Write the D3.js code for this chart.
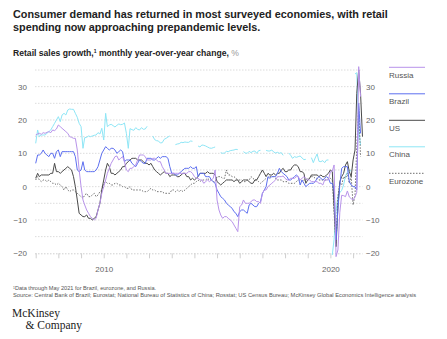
<!DOCTYPE html>
<html>
<head>
<meta charset="utf-8">
<script src="https://d3js.org/d3.v7.min.js"></script>
<style>
  body { margin: 0; background: #fff; }
  text { font-family: "Liberation Sans", Arial, sans-serif; }
  .grid line { stroke: #dcdcdc; stroke-dasharray: 1.5,1.5; }
  .yax text { fill: #666; font-size: 8px; }
  .xax text { fill: #666; font-size: 8px; }
  .xax line, .xax path { stroke: #cfcfcf; }
  .series { fill: none; stroke-width: 1; }
</style>
</head>
<body>
<script>
// monthly values, Jan 2007 onward (null = no reading)
var startDate = new Date(2007, 0, 1);

var russia = [
  15.5, 15.8, 16, 15.7, 16.2, 16, 16.3, 16.5, 16.2, 17, 16.8, 17.3,
  18.5, 18, 17.5, 17, 16.5, 16, 15, 14.8, 14.5, 14.5, 11, 5,
  0, -4, -5.5, -7, -8, -9, -9.5, -10, -9.5, -7, -5, -2,
  0, 2, 4, 5.5, 7, 8, 9, 9.2, 8, 8.5, 9, 7.5,
  5, 4.5, 5.5, 5.5, 6, 6.5, 8, 9.5, 9.5, 9.5, 9, 8,
  8, 8, 8.5, 8.5, 8, 7.5, 7.5, 6, 5, 4, 4, 4,
  4, 4, 4, 4, 4, 4, 4, 4, 4, 4.5, 4.5, 4,
  3, 2.5, 2.5, 2, 2, 1, 1.5, 2, 1.5, 2, 2.5, 5,
  -4, -7, -8.5, -9.5, -9, -9, -9.5, -10, -10.5, -11.5, -12.5, -13.5,
  -6, -5.5, -4, -5, -5, -5, -4.5, -4, -4, -4.5, -4.5, -5,
  -2, -1, -1, 0, 0.5, 1, 1.5, 2, 3, 3, 3, 3.2,
  2.5, 2, 2, 2.5, 2.5, 2.5, 3, 3, 2, 2.5, 3, 2.5,
  2, 2, 1.5, 1.5, 1.5, 1.5, 1, 1, 0.5, 2, 2, 2,
  4.5, 4.7, 6.5, -21, -19, -7.7, -2.6, -2.7, -3, -1.3, -3.1, -3.6,
  -4, -3.1, -1.7, 36, 27
];

var brazil = [
  7, 9.5, 9.5, 10, 11, 10, 9.5, 9, 10, 10, 8.5, 10.5,
  11, 9, 10.5, 10.5, 10.5, 10.5, 10.5, 10.5, 10.5, 9, 5, 4.5,
  5, 7.5, 5, 4.5, 4.5, 4.5, 4.5, 4.5, 5, 6, 8, 10,
  11, 12, 11.5, 11, 11.5, 11.5, 11, 10, 10.5, 11, 10.5, 7.5,
  8, 8, 8, 7, 6.5, 6, 7, 8, 7.5, 7, 7, 8.5,
  8.5, 8.5, 8, 8, 8.5, 9, 8.5, 9, 9, 9, 8.5, 6,
  4, 4, 3.5, 3.5, 4, 4.5, 5, 5.5, 5.5, 5.5, 6, 5.5,
  5.5, 6, 3, 4, 4, 4, 3, 3, 3, 2, 1.5, 1,
  -1, -2, -3, -3.5, -4, -5, -5.5, -6, -6.5, -7.5, -8, -9,
  -7.5, -7, -7, -7.5, -8, -5.5, -5, -5.5, -6, -6, -5, -4.5,
  -2, -1, 0, 3, 2.5, 3, 3, 3, 4, 5.5, 4.5, 4,
  3.5, 3, 2, 2, 2.5, 3, 3.5, 3, 0.5, 2, 1, 0,
  0.5, 1, 1, 1, 1.5, 2.5, 3, 2.5, 2, 2.5, 3, 2.5,
  1, 1, -1, -16, -7, 0.5, 5.5, 6, 6, 6, 1.5, 0.5,
  0, 0, -1, 25, 16
];

var us = [
  2.5, 4, 3, 3.5, 3.5, 3.5, 3.5, 3.5, 4, 4, 7, 4.5,
  4.5, 4, 4.5, 5, 5.5, 6, 5.5, 5, 3, 0, -4, -8,
  -8.5, -9, -9, -8.5, -9.5, -9.5, -10, -9.5, -9, -7, -5, -1,
  2, 5, 7, 6, 4, 4, 3.5, 4, 4.5, 5, 6, 6,
  7, 7.5, 8, 8.5, 8.5, 8.5, 8, 8, 8, 7.5, 7, 7,
  6.5, 7, 6, 5, 4.5, 4, 3.5, 4, 4.5, 4, 4, 3,
  3.5, 3.5, 3.5, 3, 3, 3.5, 4, 4, 3, 3, 2, 2.5,
  2, 2.5, 3, 4, 4, 4, 4, 4.5, 4, 4, 4, 3.5,
  1.5, 1, 0.5, 1, 1.5, 2, 2, 2, 2, 1.5, 2, 2,
  1, 1.5, 2, 2, 2, 1.5, 1, 1, 2, 2, 3, 4,
  5, 4, 3, 4, 3.5, 3.5, 4, 3.5, 4, 4, 5, 5.5,
  4.5, 4.5, 5, 5, 6, 6.5, 6.5, 6, 4.5, 4.5, 4, 1,
  2, 2.5, 3.5, 3.5, 3.5, 3.5, 3, 3.5, 3, 3, 3.5, 4,
  5, 4.5, -6, -18, -6, 1.5, 3, 4, 6.5, 7.5, 4.5, 3,
  8, 11, 28, 35, 28, 15
];

var china = [
  13, 17, 15, 15.5, 15.5, 15.5, 16, 16.5, 17, 18, 19, 20,
  21, 19.5, 21.5, 22, 21.5, 23, 23.3, 23.2, 23.2, 22, 20.8, 19,
  18, 11.5, 14.7, 14.8, 15.2, 15, 15.2, 15.4, 15.5, 16.2, 15.8, 17.5,
  14, 22, 18, 18.5, 18.7, 18.3, 17.9, 18.4, 18.8, 18.6, 18.7, 19.1,
  16, 11.5, 17.4, 17.1, 16.9, 17.7, 17.2, 17, 17.7, 17.2, 17.3, 18.1,
  null, null, 15.2, 14.1, 13.8, 13.7, 13.1, 13.2, 14.2, 14.5, 14.9, 15.2,
  null, null, 12.6, 12.8, 12.9, 13.3, 13.2, 13.4, 13.3, 13.3, 13.7, 13.6,
  null, null, 12.2, 11.9, 12.5, 12.4, 12.2, 11.9, 11.6, 11.5, 11.7, 11.9,
  null, null, 10.2, 10, 10.1, 10.6, 10.5, 10.8, 10.9, 11, 11.2, 11.1,
  null, null, 10.5, 10.1, 10, 10.6, 10.2, 10.6, 10.7, 10, 10.8, 10.9,
  null, null, 10.9, 10.7, 10.7, 11, 10.4, 10.1, 10.3, 10, 10.2, 9.4,
  null, null, 10.1, 9.4, 8.5, 9, 8.8, 9, 9.2, 8.6, 8.1, 8.2,
  null, null, 8.7, 7.2, 8.6, 9.8, 7.6, 7.5, 7.8, 7.2, 8, 8,
  null, -20.5, -15.8, -7.5, -2.8, -1.8, -1.1, 0.5, 3.3, 4.3, 5, 4.6,
  null, 33.8, 34.2, 17.7, 12.4
];

var eurozone = [
  2, 3, 2, 1.5, 2, 2, 1.5, 2, 1.5, 1, 1, 0.5,
  1, 0.5, 0, -1, 0, -1, -1.5, -1, -1, -1.5, -2, -2.5,
  -3, -3.5, -2.5, -2, -3, -3, -2.5, -2, -3, -2.5, -1.5, -1,
  1, 1.5, 1, 1, 0.5, 0.5, 1, 1, 0.5, 0.5, 0, 0,
  -0.5, -0.5, 0, -1, -1, -1, -1, -1, -1, -1.5, -1.5, -1.5,
  -1, -0.5, -1, -1, -1.5, -1.5, -1.5, -1.5, -2, -2, -2, -2,
  -1, -1, -1.5, -1, -1.5, -1, -1.5, -1, -0.5, 0, 0.5, 1,
  1, 1.5, 2, 1.5, 2, 2, 2, 2.5, 2, 2, 1.5, 1.5,
  3, 3, 3, 2.5, 2.5, 5, 3.5, 3.5, 3, 3, 2.5, 2,
  2, 2, 1.5, 1.5, 2, 2, 3, 2.5, 2, 2, 1.5, 1,
  1.5, 2, 2.5, 2.5, 3, 3, 3, 2.5, 2, 2, 2, 1.5,
  1.5, 1.5, 1, 1, 1, 1, 1.5, 2, 2, 1.5, 2, 2,
  2.5, 2.5, 3, 3, 2.5, 2.5, 2, 2, 2, 2, 2, 2.5,
  2.5, 2, -8, -17, -3, 1, 0.5, 3, 2.5, 4, 1, 3,
  -5.5, -2.5, 12, 24, 9
];

var seriesNames = ["China", "Eurozone", "US", "Brazil", "Russia"];
var legendNames = ["Russia", "Brazil", "US", "China", "Eurozone"];
var yTicks = [-20, -10, 0, 10, 20, 30];
var gridTicks = [-15, -10, -5, 0, 5, 10, 15, 20, 25, 30, 35];
var xLabels = [2010, 2020];

var colors = {Russia: "#b893ea", Brazil: "#5d6ff0", US: "#4a4a4a", China: "#8ee6f6", Eurozone: "#6e6e6e"};
var dataMap = {Russia: russia, Brazil: brazil, US: us, China: china, Eurozone: eurozone};

var W = 447, H = 339;
var svg = d3.select("body").append("svg").attr("width", W).attr("height", H);

// shrink a text's font until it spans the given width
function fitWidth(sel, width) {
  var fs = parseFloat(sel.style("font-size"));
  var w = sel.node().getComputedTextLength();
  sel.style("font-size", (fs * width / w) + "px");
}

// title
var t1 = svg.append("text").attr("x", 13).attr("y", 18)
  .style("font-size", "12px").style("font-weight", "bold").style("fill", "#222")
  .text("Consumer demand has returned in most surveyed economies, with retail");
fitWidth(t1, 375);
var t2 = svg.append("text").attr("x", 13).attr("y", 30.5)
  .style("font-size", t1.style("font-size")).style("font-weight", "bold").style("fill", "#222")
  .text("spending now approaching prepandemic levels.");

var sub = svg.append("text").attr("x", 13).attr("y", 56)
  .style("font-size", "8.6px").style("font-weight", "bold").style("fill", "#222");
sub.append("tspan").text("Retail sales growth,");
sub.append("tspan").attr("dy", -3).style("font-size", "5px").text("1");
sub.append("tspan").attr("dy", 3).text(" monthly year-over-year change, ");
sub.append("tspan").style("fill", "#999").style("font-weight", "normal").text("%");

// scales
var x = d3.scaleTime()
  .domain([new Date(2007, 0, 1), new Date(2021, 0, 1)])
  .range([35.7, 353.1]);
var y = d3.scaleLinear().domain([-20, 35]).range([253.3, 70]);

// grid
svg.append("g").attr("class", "grid")
  .selectAll("line").data(gridTicks).enter().append("line")
  .attr("x1", 35).attr("x2", 362.5)
  .attr("y1", function(d) { return y(d); })
  .attr("y2", function(d) { return y(d); });

// x axis at -20
var years = d3.range(2007, 2022).map(function(yr) { return new Date(yr, 0, 1); });
var xAxis = svg.append("g").attr("class", "xax")
  .attr("transform", "translate(0," + y(-20) + ")")
  .call(d3.axisBottom(x).tickValues(years).tickSize(5).tickFormat(function(d) {
    return xLabels.indexOf(d.getFullYear()) >= 0 ? d.getFullYear() : "";
  }));
xAxis.select(".domain").attr("d", "M35,0.5H362.5").style("stroke-dasharray", "1.5,1.5");
xAxis.selectAll(".tick text").attr("dy", "1.35em");

// y axes
var fmt = function(d) { return d < 0 ? "\u2212" + Math.abs(d) : d; };
var yl = svg.append("g").attr("class", "yax").attr("transform", "translate(27,0)")
  .call(d3.axisLeft(y).tickValues(yTicks).tickSize(0).tickPadding(0).tickFormat(fmt));
yl.select(".domain").remove();
var yr = svg.append("g").attr("class", "yax").attr("transform", "translate(366,0)")
  .call(d3.axisRight(y).tickValues(yTicks).tickSize(0).tickPadding(0).tickFormat(fmt));
yr.select(".domain").remove();

// lines
var line = d3.line()
  .defined(function(d) { return d.v !== null; })
  .x(function(d) { return x(d.date); })
  .y(function(d) { return y(d.v); });

seriesNames.forEach(function(name) {
  var pts = dataMap[name].map(function(v, i) {
    return {date: d3.timeMonth.offset(startDate, i), v: v};
  });
  var p = svg.append("path").datum(pts)
    .attr("class", "series")
    .attr("d", line)
    .style("stroke", colors[name]);
  if (name === "Eurozone") p.style("stroke-dasharray", "1.5,1.5");
});

// legend
var lg = svg.append("g").selectAll("g").data(legendNames).enter().append("g")
  .attr("transform", function(d, i) { return "translate(389," + (67.3 + i * 26.5) + ")"; });
lg.append("line").attr("x1", 0).attr("x2", 36).attr("y1", 0).attr("y2", 0)
  .style("stroke", function(d) { return colors[d]; })
  .style("stroke-width", 1)
  .style("stroke-dasharray", function(d) { return d === "Eurozone" ? "1.5,1.5" : null; });
lg.append("text").attr("x", 0).attr("y", 10.5)
  .style("font-size", "8px").style("fill", "#555").text(function(d) { return d; });

// footnotes
var foot = svg.append("text").attr("x", 13).attr("y", 290).style("font-size", "5.6px").style("fill", "#555");
foot.append("tspan").attr("dy", -1.5).style("font-size", "3.5px").text("1");
foot.append("tspan").attr("dy", 1.5).text("Data through May 2021 for Brazil, eurozone, and Russia.");
var src = svg.append("text").attr("x", 13).attr("y", 297).style("font-size", "5.3px").style("fill", "#555")
  .text("Source: Central Bank of Brazil; Eurostat; National Bureau of Statistics of China; Rosstat; US Census Bureau; McKinsey Global Economics Intelligence analysis");
fitWidth(src, 404);

// logo
svg.append("text").attr("x", 12).attr("y", 317)
  .style("font-family", "'Liberation Serif', 'Times New Roman', serif").style("font-size", "11.5px").style("fill", "#222")
  .text("McKinsey");
svg.append("text").attr("x", 25.5).attr("y", 329)
  .style("font-family", "'Liberation Serif', 'Times New Roman', serif").style("font-size", "11.5px").style("fill", "#222")
  .text("& Company");
</script>
</body>
</html>
